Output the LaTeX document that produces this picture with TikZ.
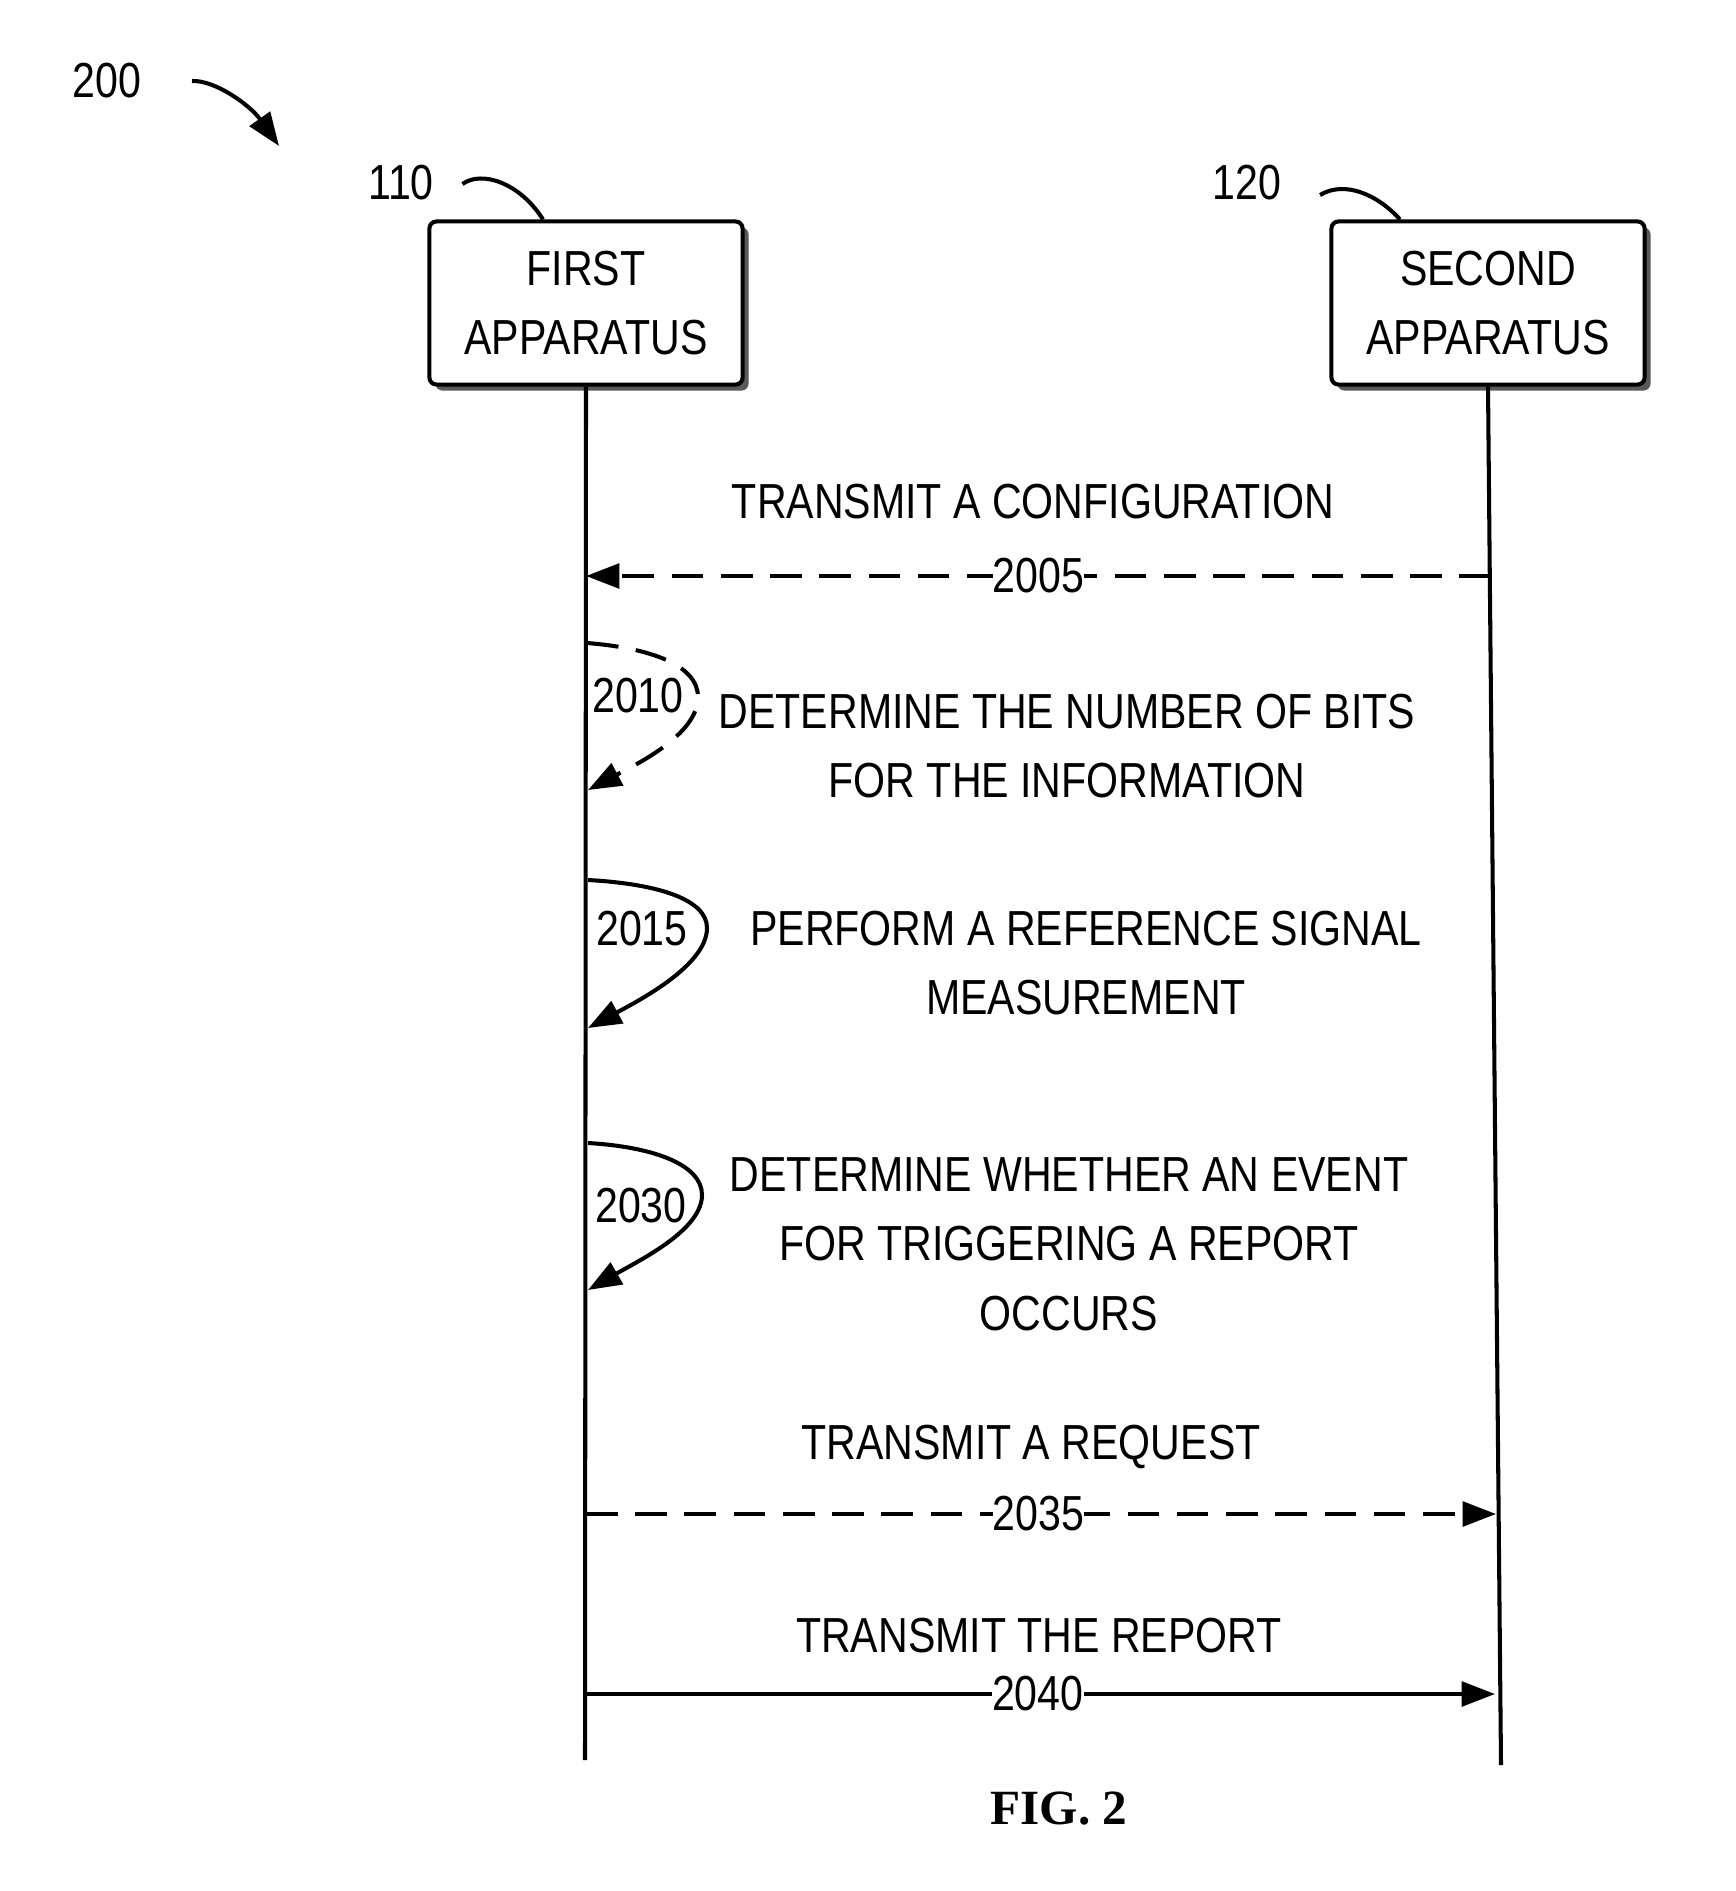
\documentclass[tikz,border=0pt]{standalone}
\usepackage{fontspec}
\setmainfont{Liberation Sans}[FakeStretch=0.835]
\newfontfamily\figfont{Liberation Serif}
\usetikzlibrary{arrows.meta,shadows}

\tikzset{
  txt/.style={font=\fontsize{14}{19.8}\selectfont, align=center, inner sep=0pt},
  appbox/.style={txt, draw, line width=1.15pt, rounded corners=2pt, fill=white,
    minimum width=3.13cm, minimum height=1.63cm,
    drop shadow={shadow xshift=0.06cm, shadow yshift=-0.06cm, opacity=1, fill=black!65}},
  life/.style={line width=1.15pt},
  msg/.style={line width=1.15pt, -{Triangle[length=9.5pt,width=7pt]}},
  dsh/.style={dash pattern=on 9pt off 5pt},
  num/.style={txt, fill=white},
  leader/.style={line width=1.15pt}
}

\begin{document}
\begin{tikzpicture}[x=0.01cm,y=-0.01cm]
  \useasboundingbox (0,0) rectangle (1735,1891);

  % reference numerals
  \node[txt] (n200) at (107,81) {200};
  \coordinate (n200-tip) at (279,146);
  \draw[msg] ([xshift=0.5cm]n200.east) .. controls (215,80) and (250,105) .. (n200-tip);

  % the two apparatus
  \node[appbox] (fa) at (586,303) {FIRST\\APPARATUS};
  \node[appbox] (sa) at (1488,303) {SECOND\\APPARATUS};

  \node[txt] (n110) at (401,183) {110};
  \node[txt] (n120) at (1247,183) {120};
  \draw[leader] ([xshift=0.28cm,yshift=-0.01cm]n110.east) .. controls (482,170) and (520,183) .. ([xshift=-0.43cm]fa.north);
  \draw[leader] ([xshift=0.38cm,yshift=-0.12cm]n120.east) .. controls (1345,180) and (1378,195) .. ([xshift=-0.88cm]sa.north);

  % life lines
  \coordinate (fa-end) at (585,1760);
  \coordinate (sa-end) at (1501,1765);
  \draw[life] (fa.south) -- (fa-end);
  \draw[life] (sa.south) -- (sa-end);

  % 2005
  \node[txt] (t2005) at (1033,502) {TRANSMIT A CONFIGURATION};
  \coordinate (m2005-a) at (1491,576);
  \coordinate (m2005-b) at (586,576);
  \draw[msg,dsh] (m2005-a) -- node[num,pos=0.5]{2005} (m2005-b);

  % 2010
  \coordinate (l2010-s) at (587,643);
  \coordinate (l2010-e) at (588,790);
  \draw[msg,dsh] (l2010-s) .. controls (650,648) and (698,665) .. (698,697)
    .. controls (698,735) and (635,765) .. (l2010-e);
  \node[txt] (n2010) at (638,696) {2010};
  \node[txt] (t2010) at (1067,746) {DETERMINE THE NUMBER OF BITS\\FOR THE INFORMATION};

  % 2015
  \coordinate (l2015-s) at (588,880);
  \coordinate (l2015-e) at (588,1028);
  \draw[msg] (l2015-s) .. controls (660,884) and (707,900) .. (707,928)
    .. controls (707,965) and (640,1000) .. (l2015-e);
  \node[txt] (n2015) at (642,929) {2015};
  \node[txt] (t2015) at (1086,963) {PERFORM A REFERENCE SIGNAL\\MEASUREMENT};

  % 2030
  \coordinate (l2030-s) at (588,1143);
  \coordinate (l2030-e) at (588,1290);
  \draw[msg] (l2030-s) .. controls (655,1147) and (702,1165) .. (702,1195)
    .. controls (702,1230) and (640,1260) .. (l2030-e);
  \node[txt] (n2030) at (641,1206) {2030};
  \node[txt] (t2030) at (1069,1244) {DETERMINE WHETHER AN EVENT\\FOR TRIGGERING A REPORT\\OCCURS};

  % 2035
  \node[txt] (t2035) at (1031,1447) {TRANSMIT A REQUEST};
  \coordinate (m2035-a) at (586,1514);
  \coordinate (m2035-b) at (1496,1514);
  \draw[msg,dsh] (m2035-a) -- node[num,pos=0.497]{2035} (m2035-b);

  % 2040
  \node[txt] (t2040) at (1039,1636) {TRANSMIT THE REPORT};
  \coordinate (m2040-a) at (586,1694);
  \coordinate (m2040-b) at (1495,1694);
  \draw[msg] (m2040-a) -- node[num,pos=0.497]{2040} (m2040-b);

  \node[inner sep=0pt, font=\figfont\fontsize{14}{16}\selectfont\bfseries] (fig) at (1059,1809) {FIG. 2};
\end{tikzpicture}
\end{document}
